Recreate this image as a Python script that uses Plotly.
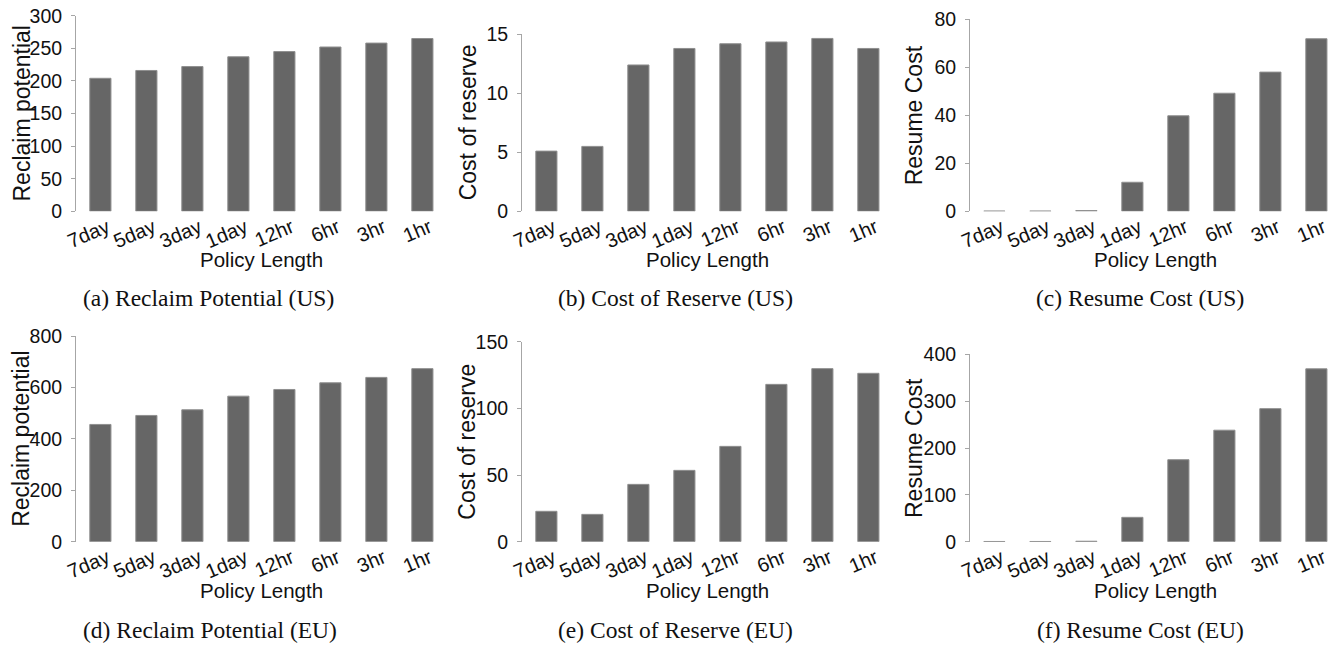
import plotly.graph_objects as go

W, H = 1334, 646

policies = ["7day", "5day", "3day", "1day", "12hr", "6hr", "3hr", "1hr"]

reclaim_us = [204, 216, 222, 237, 245, 252, 258, 265]
reserve_us = [5.1, 5.5, 12.4, 13.8, 14.2, 14.35, 14.65, 13.8]
resume_us = [0.1, 0.1, 0.3, 12.1, 39.8, 49.2, 58.0, 71.9]

reclaim_eu = [456, 491, 513, 566, 592, 618, 639, 673]
reserve_eu = [22.8, 20.5, 43.0, 53.5, 71.5, 118, 129.8, 126.3]
resume_eu = [0.5, 0.5, 1.0, 52, 175, 238, 284, 369]

y_titles = ["Reclaim potential", "Cost of reserve", "Resume Cost",
            "Reclaim potential", "Cost of reserve", "Resume Cost"]
captions = ["(a) Reclaim Potential (US)", "(b) Cost of Reserve (US)", "(c) Resume Cost (US)",
            "(d) Reclaim Potential (EU)", "(e) Cost of Reserve (EU)", "(f) Resume Cost (EU)"]
y_ranges = [[0, 300], [0, 15], [0, 80], [0, 800], [0, 150], [0, 400]]
y_dticks = [50, 5, 20, 200, 50, 100]
series = [reclaim_us, reserve_us, resume_us, reclaim_eu, reserve_eu, resume_eu]

# panel geometry in pixels: (axis left x, plot top y, plot bottom y)
axis_left = [76, 522, 970, 76, 522, 970]
plot_top = [15.7, 34.3, 19.3, 336, 341.7, 354.3]
plot_bottom = [211.3, 211.3, 211.3, 541.7, 541.7, 541.7]
cat_px = 46.0
ytitle_x = [21, 467.5, 914, 21, 467, 914]
xtitle_y = [259, 259, 259, 590, 590, 590]
caption_x = [209, 675, 1140, 210, 675, 1140]
caption_y = [298, 298, 298, 630, 630, 630]

SANS = "Liberation Sans, Arial, sans-serif"
SERIF = "Liberation Serif, Times New Roman, serif"

fig = go.Figure()
layout = {}
annotations = []
start = -0.53

for i in range(6):
    n = i + 1
    xa = "x" if n == 1 else f"x{n}"
    ya = "y" if n == 1 else f"y{n}"
    fig.add_trace(go.Bar(
        x=policies, y=series[i], xaxis=xa, yaxis=ya,
        marker=dict(color="#666666", line=dict(color="#8f8f8f", width=1)),
        width=0.46, showlegend=False, hoverinfo="x+y",
    ))
    x0 = axis_left[i] / W
    x1 = min((axis_left[i] + 364) / W, 1.0)
    y1 = 1 - plot_top[i] / H
    y0 = 1 - plot_bottom[i] / H
    layout["xaxis" if n == 1 else f"xaxis{n}"] = dict(
        domain=[x0, x1], anchor=ya, type="category", automargin=False,
        range=[start, start + (x1 - x0) * W / cat_px],
        showline=False, showgrid=False, zeroline=False, ticks="",
        tickangle=-23, ticklabelshift=7,
        tickfont=dict(family=SANS, size=20, color="#111"),
    )
    layout["yaxis" if n == 1 else f"yaxis{n}"] = dict(
        domain=[y0, y1], anchor=xa, range=y_ranges[i], dtick=y_dticks[i],
        automargin=False,
        showline=True, linecolor="#a6a6a6", linewidth=1,
        ticks="outside", ticklen=4, tickcolor="#a6a6a6",
        ticklabelstandoff=5,
        showgrid=False, zeroline=False,
        tickfont=dict(family=SANS, size=19.5, color="#111"),
    )
    annotations.append(dict(
        text=y_titles[i], textangle=-90, xref="paper", yref="paper",
        x=ytitle_x[i] / W, y=1 - (plot_top[i] + plot_bottom[i]) / 2 / H,
        xanchor="center", yanchor="middle", showarrow=False,
        font=dict(family=SANS, size=23, color="#111"),
    ))
    annotations.append(dict(
        text="Policy Length", xref="paper", yref="paper",
        x=(axis_left[i] + (3.5 - start) * cat_px) / W,
        y=1 - xtitle_y[i] / H,
        xanchor="center", yanchor="middle", showarrow=False,
        font=dict(family=SANS, size=20.5, color="#111"),
    ))
    annotations.append(dict(
        text=captions[i], xref="paper", yref="paper",
        x=caption_x[i] / W, y=1 - caption_y[i] / H,
        xanchor="center", yanchor="middle", showarrow=False,
        font=dict(family=SERIF, size=23.5, color="#111"),
    ))

fig.update_layout(
    template="none",
    width=W, height=H, margin=dict(l=0, r=0, t=0, b=0),
    paper_bgcolor="white", plot_bgcolor="white",
    bargap=0.54, annotations=annotations, **layout,
)

fig.write_html("out.html")
